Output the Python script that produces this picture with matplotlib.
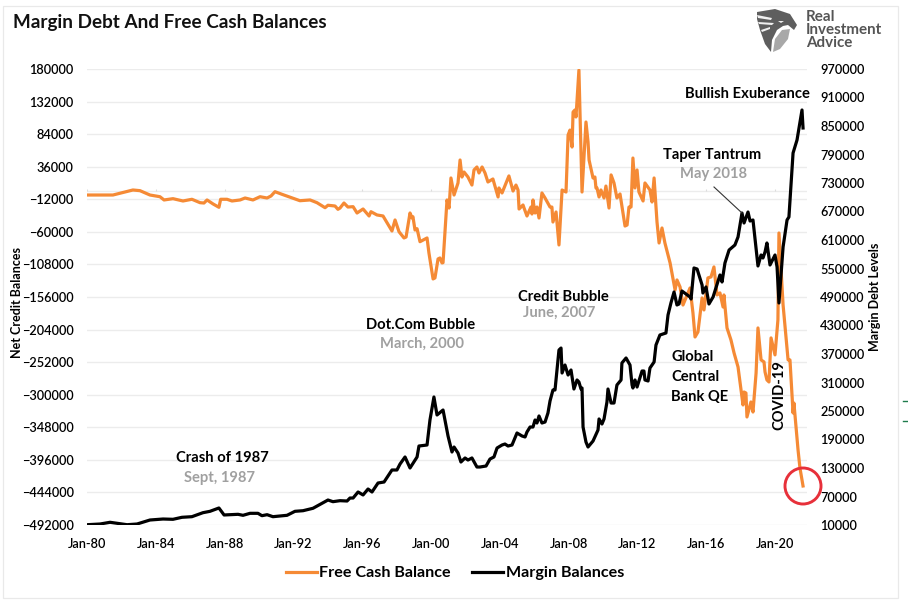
import matplotlib
matplotlib.use("Agg")
import matplotlib.pyplot as plt
from matplotlib.patches import Polygon, Rectangle, Ellipse
from matplotlib.lines import Line2D

FONT = "Lato"
plt.rcParams["font.family"] = [FONT, "DejaVu Sans"]

W, H = 908, 604

cash_years = [1980.0,1980.76,1981.51,1982.67,1983.08,1983.66,1984.24,1984.48,1985.0,1985.58,1986.10,1986.57,1986.80,1986.98,1987.33,1987.67,1987.77,1988.14,1988.43,1988.90,1989.19,1989.65,1990.06,1990.47,1990.70,1990.93,1991.34,1991.98,1992.38,1992.97,1993.37,1993.84,1994.01,1994.42,1994.59,1994.71,1994.94,1995.17,1995.47,1995.70,1996.05,1996.40,1996.51,1996.86,1997.21,1997.44,1997.73,1997.91,1998.14,1998.43,1998.55,1998.78,1998.90,1998.95,1999.07,1999.19,1999.36,1999.77,1999.88,2000.12,2000.23,2000.41,2000.52,2000.64,2000.70,2000.93,2001.05,2001.16,2001.34,2001.57,2001.69,2001.80,2001.92,2002.15,2002.38,2002.50,2002.67,2002.79,2002.97,2003.14,2003.31,2003.60,2003.90,2003.95,2004.13,2004.53,2004.77,2004.94,2005.06,2005.12,2005.35,2005.41,2005.58,2005.81,2005.87,2005.93,2006.05,2006.16,2006.28,2006.45,2006.63,2006.92,2007.03,2007.09,2007.27,2007.44,2007.62,2007.85,2007.97,2008.08,2008.20,2008.26,2008.37,2008.43,2008.60,2008.78,2009.01,2009.13,2009.19,2009.42,2009.53,2009.59,2009.65,2009.77,2009.88,2010.06,2010.17,2010.35,2010.47,2010.64,2010.81,2010.99,2011.28,2011.40,2011.51,2011.63,2011.74,2011.86,2011.98,2012.09,2012.33,2012.44,2012.73,2012.85,2012.97,2013.14,2013.26,2013.43,2013.60,2013.90,2014.19,2014.30,2014.48,2014.65,2015.06,2015.23,2015.35,2015.52,2015.76,2015.87,2016.10,2016.28,2016.45,2016.63,2016.80,2016.98,2017.03,2017.21,2017.44,2017.62,2017.85,2018.14,2018.20,2018.31,2018.37,2018.60,2018.72,2018.90,2019.01,2019.19,2019.36,2019.42,2019.53,2019.65,2019.77,2020.0,2020.17,2020.23,2020.47,2020.76,2020.87,2021.05,2021.10,2021.34,2021.45,2021.63]
cash_balance = [-5700,-5700,-5700,1700,700,-5700,-8200,-13000,-11100,-14500,-12000,-17000,-17500,-13000,-18900,-23800,-12000,-12000,-14500,-13000,-10100,-13000,-8200,-10100,-7100,-800,-4700,-10500,-14100,-13000,-17000,-24400,-20800,-21900,-26800,-24900,-17500,-23400,-22900,-32200,-26300,-36600,-30300,-35100,-36600,-46500,-58700,-42500,-59800,-69000,-67600,-32200,-39600,-37700,-57300,-55400,-74500,-69000,-91100,-129400,-127900,-99900,-98500,-105800,-105400,-13000,-24900,19400,-5700,12000,45900,20800,28200,20800,9000,31200,35600,26800,35600,26800,13500,17900,-8600,4700,-2700,22400,200,9000,1700,-26300,-20400,-24900,-36600,-23400,-33700,-13000,-32200,-23400,-39600,-2700,-10100,-23400,-23400,-45500,-30700,-79300,1700,-1300,82700,90000,65000,116600,119600,109300,178500,-1300,101900,72400,45900,19400,20800,4700,4700,-8600,1700,-10100,7500,-24900,23900,12000,-10100,-4200,-51400,-49900,-23400,-23400,48800,4700,31200,-1300,-14500,12000,1700,-16000,19400,-45500,-76400,-54300,-76400,-105800,-145600,-130900,-141200,-167800,-142700,-179500,-214900,-207500,-157400,-175100,-127900,-126400,-111700,-153000,-150000,-170700,-153000,-201600,-219300,-238500,-259100,-315100,-296000,-297500,-332800,-310700,-325500,-268000,-201600,-248700,-251700,-266400,-278200,-281200,-216300,-241300,-189700,-61700,-167800,-248700,-248700,-326900,-312200,-381400,-407900,-434500]

margin_years = [1980.0,1980.76,1981.34,1982.33,1982.91,1983.66,1984.42,1985.0,1985.52,1986.10,1986.74,1987.15,1987.67,1987.97,1988.78,1989.07,1989.48,1989.94,1990.17,1990.47,1990.81,1991.63,1992.09,1992.56,1993.14,1994.01,1994.30,1994.71,1995.12,1995.29,1995.47,1995.76,1996.05,1996.34,1996.57,1996.92,1997.27,1997.73,1998.02,1998.20,1998.49,1998.78,1999.19,1999.30,1999.77,1999.94,2000.17,2000.35,2000.70,2000.99,2001.22,2001.34,2001.57,2001.74,2001.98,2002.15,2002.38,2002.67,2002.85,2003.20,2003.43,2003.66,2003.84,2004.13,2004.30,2004.48,2004.71,2005.0,2005.29,2005.47,2005.58,2005.76,2005.93,2006.05,2006.16,2006.28,2006.45,2006.63,2006.80,2006.92,2007.09,2007.21,2007.44,2007.56,2007.62,2007.79,2007.97,2008.14,2008.31,2008.49,2008.60,2008.72,2008.78,2008.84,2009.01,2009.13,2009.42,2009.71,2009.77,2009.94,2010.06,2010.23,2010.29,2010.47,2010.64,2010.81,2011.05,2011.10,2011.34,2011.57,2011.69,2011.74,2011.86,2011.98,2012.27,2012.38,2012.44,2012.62,2012.73,2012.97,2013.08,2013.31,2013.66,2013.78,2013.95,2014.13,2014.30,2014.42,2014.59,2015.06,2015.12,2015.29,2015.47,2015.76,2015.81,2015.99,2016.16,2016.40,2016.80,2016.92,2017.09,2017.33,2017.67,2017.85,2018.08,2018.20,2018.43,2018.55,2018.72,2019.01,2019.19,2019.30,2019.42,2019.53,2019.71,2020.0,2020.12,2020.23,2020.47,2020.70,2020.81,2021.05,2021.28,2021.57,2021.63]
margin_balance = [10600,12100,15700,10600,12100,20500,22600,22000,26200,27500,35900,38800,45800,31100,32500,30400,34600,34600,29600,31700,27500,30400,38800,40100,45200,62600,59100,61200,60500,66800,66800,79500,73200,85800,79500,98400,100500,125800,125800,138400,153200,130000,153200,176300,178400,231100,279500,241600,252100,197400,163700,174200,161600,142600,151100,146800,151100,132100,132100,134200,148900,153200,172100,178400,180500,176300,178400,203700,197400,195300,205800,216300,216300,231100,224700,239500,224700,226800,245800,271100,294200,294200,378400,382600,330000,346800,325800,336300,296300,315300,311100,296300,298400,216300,184700,174200,186800,210000,233200,222600,233200,268900,296300,266800,266800,304700,315300,351100,361600,346800,304700,298400,315300,300500,334200,334200,315300,313200,340500,353200,388900,410000,414200,452100,477400,500500,473200,475300,502600,490000,485800,551100,548900,515300,498400,511100,475300,490000,536300,521600,561600,588900,599500,616300,666800,645800,668900,650000,652100,555300,578400,572100,584700,603700,557400,578400,553200,477400,595300,652100,658400,793200,820500,883700,845800]

left_ticks = list(range(-492000, 180001, 48000))
right_ticks = list(range(10000, 970001, 60000))
x_ticks = list(range(1980, 2021, 4))
x_labels = ["Jan-80","Jan-84","Jan-88","Jan-92","Jan-96","Jan-00","Jan-04","Jan-08","Jan-12","Jan-16","Jan-20"]

title = "Margin Debt And Free Cash Balances"
cash_name = "Free Cash Balance"
margin_name = "Margin Balances"

ORANGE = "#F58A35"
GREY = "#A0A0A0"
GRID = "#ECECEC"

fig = plt.figure(figsize=(W / 100, H / 100), dpi=100, facecolor="white")

def fx(x):
    return x / W

def fy(y):
    return 1 - y / H

# outer chart frame
fig.add_artist(Rectangle((fx(3), fy(598)), fx(895), 592 / H, transform=fig.transFigure,
                         fill=False, edgecolor="#E9E9E9", lw=0.9))

ax = fig.add_axes([fx(87), fy(525), fx(720), 456 / H])
ax.set_xlim(1980, 1980 + 720 / 17.2)
ax.set_ylim(-492000, 180000)
ax.set_yticks(left_ticks)
ax.set_xticks(x_ticks)
ax.set_xticklabels(x_labels)
ax.grid(axis="y", color=GRID, lw=1.0)
ax.set_axisbelow(True)
for s in ax.spines.values():
    s.set_visible(False)
ax.tick_params(axis="both", length=0, labelsize=9.2, labelcolor="black")
ax.tick_params(axis="x", pad=9.5)
ax.tick_params(axis="y", pad=9.5)
for t in ax.get_xticklabels() + ax.get_yticklabels():
    t.set_fontweight("semibold")
# the category axis of the left scale crosses at zero, with its small tick marks
ax.axhline(0, color=GRID, lw=1.0, zorder=1)
ax.vlines(x_ticks, 0, 3500, color="#DDDDDD", lw=0.8, zorder=1)

ax.plot(cash_years, cash_balance, color=ORANGE, lw=2.3, solid_joinstyle="round", zorder=3, label=cash_name)

ax2 = ax.twinx()
ax2.set_ylim(10000, 970000)
ax2.set_yticks(right_ticks)
for s in ax2.spines.values():
    s.set_visible(False)
ax2.tick_params(axis="y", length=0, labelsize=9.2, pad=9.5)
for t in ax2.get_yticklabels():
    t.set_fontweight("semibold")
ax2.plot(margin_years, margin_balance, color="black", lw=2.3, solid_joinstyle="round", zorder=3, label=margin_name)

def label(x, y, s, color="black", size=10.6, **kw):
    kw.setdefault("ha", "center")
    fig.text(fx(x), fy(y), s, color=color, fontsize=size, fontweight="bold", va="center", **kw)

fig.text(fx(13), fy(22.5), title, fontsize=13.55, fontweight="bold", color="#111111", va="center", ha="left")

label(222, 458, "Crash of 1987")
label(220, 478, "Sept, 1987", GREY)
label(421, 325, "Dot.Com Bubble")
label(422, 344, "March, 2000", GREY)
label(563, 297, "Credit Bubble")
label(559, 313, "June, 2007", GREY)
label(712, 155, "Taper Tantrum")
label(714, 174, "May 2018", GREY)
label(747, 94, "Bullish Exuberance")
label(671, 357, "Global", ha="left")
label(671, 377, "Central", ha="left")
label(671, 397, "Bank QE", ha="left")
label(779, 395, "COVID-19", rotation=90)
label(17, 302, "Net Credit Balances", size=9, rotation=90)
label(875, 297, "Margin Debt Levels", size=9, rotation=90)

# leader line of the Taper Tantrum note
fig.add_artist(Line2D([fx(714), fx(742)], [fy(187), fy(213)], color="#333333", lw=0.8))

# red ring around the latest reading
fig.add_artist(Ellipse((fx(803), fy(486)), 36 / W, 36 / H, transform=fig.transFigure,
                       fill=False, edgecolor="#E7303A", lw=2.1, zorder=10))

# stray green marks at the right edge
for yy in (400.7, 420.7):
    fig.add_artist(Line2D([fx(903), fx(908)], [fy(yy), fy(yy)], color="#1E7B4C", lw=1.0))

# logo: shield and eagle in greys, wordmark
def logo_poly(points, color):
    fig.add_artist(Polygon([(fx(a), fy(b)) for a, b in points], closed=True, transform=fig.transFigure,
                           facecolor=color, edgecolor="none"))

logo_poly([(757,12),(775,9),(790,14),(797,25),(794,30),(788,25),(783,26),(777,30),(772,40),(771,52),(765,44),(760,30),(757,19)], "#5E5E5E")
logo_poly([(773,52),(775,39),(782,30),(790,29),(788,39),(780,49)], "#A8A8A8")
logo_poly([(757,15),(772,18),(771,20),(758,18)], "#F0F0F0")
logo_poly([(758,22),(774,23),(772,25),(759,24)], "#F0F0F0")
logo_poly([(761,30),(770,27),(770,29),(762,32)], "#F0F0F0")
logo_poly([(778,21),(784,21),(781,23)], "#F0F0F0")
for yy, word in ((17, "Real"), (30, "Investment"), (43, "Advice")):
    fig.text(fx(806), fy(yy), word, fontsize=10.9, fontweight="bold", color="#555555", va="center", ha="left")

handles = [Line2D([], [], color=ORANGE, lw=2.3), Line2D([], [], color="black", lw=2.3)]
fig.legend(handles, [cash_name, margin_name], loc="center", bbox_to_anchor=(fx(455), fy(573)), ncol=2,
           frameon=False, handlelength=1.9, handletextpad=0.15, columnspacing=1.35,
           prop={"family": FONT, "weight": "bold", "size": 11.6})

fig.savefig("out.png", dpi=100, facecolor="white")
